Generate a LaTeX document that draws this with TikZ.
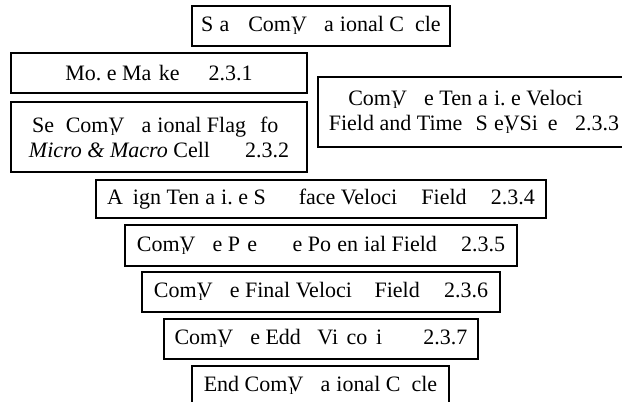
\documentclass[tikz,border=0pt]{standalone}
\usepackage{fontspec}
\setmainfont{Liberation Serif}
\usepackage{tikz}
\usetikzlibrary{positioning}
\newcommand{\pgl}{%
    \rlap{\kern0.1em\raisebox{-0.14em}{\fontsize{14}{14}\selectfont ı}}V}
\newcommand{\vgl}{\rlap{.}\phantom{v}}

\begin{document}
\begin{tikzpicture}[
    x=1pt, y=1pt,
    stepbox/.style={draw, line width=1.2pt,
                    inner sep=0pt, align=center,
                    font=\fontsize{22}{25}\selectfont},
]
\useasboundingbox (0,0) rectangle (622,402);

% -- Cycle start ------------------------------
\node[stepbox, minimum width=258pt, minimum height=40pt]
    (start) at (321, 376)
    {S\phantom{t}a\phantom{rt} Com\pgl\phantom{ut}a\phantom{t}ional C\phantom{y}cle};

% -- Left column ------------------------------
\node[stepbox, minimum width=296pt, minimum height=40pt]
    (move) at (159, 329)
    {Mo\vgl{}e Ma\phantom{r}ke\phantom{rs}\hspace{0.6em}2.3.1};
\node[stepbox, minimum width=296pt, minimum height=70pt]
    (flags) at (159, 265)
    {Se\phantom{t} Com\pgl\phantom{ut}a\phantom{t}ional Flag\phantom{s} fo\phantom{r}\\
     \textit{Micro \& Macro} Cell\phantom{s}\hspace{1.2em}2.3.2};

% -- Right column (runs off the page) ---------
\node[stepbox, minimum width=332pt, minimum height=70pt]
    (tent) at (484, 290)
    {Com\pgl\phantom{ut}e Ten\phantom{t}a\phantom{t}i\vgl{}e Veloci\phantom{ty}\hspace*{20pt}\\
     Field and Time\hspace{0.35em} S\phantom{t}e\pgl Si\phantom{z}e\hspace{0.8em}2.3.3\hspace*{20pt}};

% -- Centre stack -----------------------------
\node[stepbox, minimum width=450pt, minimum height=38pt]
    (assign) at (321, 203)
    {A\hspace{0.45em}ign Ten\phantom{t}a\phantom{t}i\vgl{}e S\hspace{1.5em}face Veloci\hspace{1.1em}Field\hspace{1.1em}2.3.4};
\node[stepbox, minimum width=392pt, minimum height=41pt]
    (press) at (321, 156.5)
    {Com\pgl\phantom{ut}e P\phantom{r}e\phantom{ssur}e Po\phantom{t}en\phantom{t}ial Field\hspace{1.1em}2.3.5};
\node[stepbox, minimum width=358pt, minimum height=40pt]
    (final) at (321, 110)
    {Com\pgl\phantom{ut}e Final Veloci\phantom{ty} Field\hspace{1.1em}2.3.6};
\node[stepbox, minimum width=314pt, minimum height=40pt]
    (eddy) at (321, 63)
    {Com\pgl\phantom{ut}e Edd\phantom{y} Vi\phantom{s}co\phantom{s}i\phantom{ty}\hspace{1.1em}2.3.7};

% -- Cycle end (runs off the page) ------------
\node[stepbox, minimum width=257pt, minimum height=40pt]
    (finish) at (320.5, 16)
    {End Com\pgl\phantom{ut}a\phantom{t}ional C\phantom{y}cle};

\end{tikzpicture}
\end{document}
